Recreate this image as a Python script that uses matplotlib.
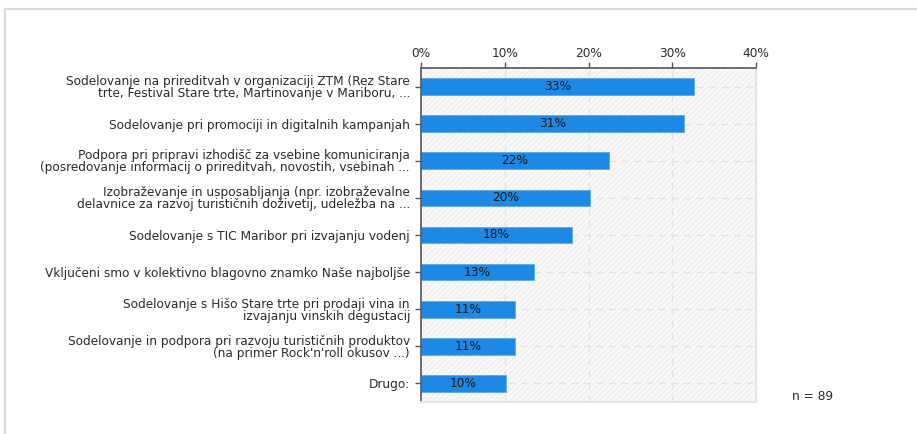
import matplotlib
matplotlib.use("Agg")
import matplotlib.pyplot as plt
from matplotlib.patches import Rectangle
from matplotlib.lines import Line2D

categories = [
    "Sodelovanje na prireditvah v organizaciji ZTM (Rez Stare\ntrte, Festival Stare trte, Martinovanje v Mariboru, ...",
    "Sodelovanje pri promociji in digitalnih kampanjah",
    "Podpora pri pripravi izhodišč za vsebine komuniciranja\n(posredovanje informacij o prireditvah, novostih, vsebinah ...",
    "Izobraževanje in usposabljanja (npr. izobraževalne\ndelavnice za razvoj turističnih doživetij, udeležba na ...",
    "Sodelovanje s TIC Maribor pri izvajanju vodenj",
    "Vključeni smo v kolektivno blagovno znamko Naše najboljše",
    "Sodelovanje s Hišo Stare trte pri prodaji vina in\nizvajanju vinskih degustacij",
    "Sodelovanje in podpora pri razvoju turističnih produktov\n(na primer Rock'n'roll okusov ...)",
    "Drugo:",
]
values = [32.58, 31.46, 22.47, 20.22, 17.98, 13.48, 11.24, 11.24, 10.11]
x_ticks = [0, 10, 20, 30, 40]
x_tick_labels = ["0%", "10%", "20%", "30%", "40%"]
n_label = "n = 89"

W, H = 917, 434
FS = 8.7
fig = plt.figure(figsize=(W / 100, H / 100), dpi=100)
fig.patch.set_facecolor("white")

# light outer frame
fig.add_artist(Line2D([5 / W, 1], [1 - 9 / H, 1 - 9 / H], color="#d9d9d9", lw=1.5))
fig.add_artist(Line2D([5 / W, 5 / W], [0, 1 - 9 / H], color="#d9d9d9", lw=1.5))

left, right, top, bottom = 421, 756, 68, 402
ax = fig.add_axes([left / W, 1 - bottom / H, (right - left) / W, (bottom - top) / H])

ax.set_xlim(0, 40)
ax.set_ylim(len(categories) - 0.5, -0.5)

# hatched plot background
ax.set_facecolor("#f9f9f9")
bg = Rectangle((0, 0), 1, 1, transform=ax.transAxes, facecolor="none",
               edgecolor="#efefef", hatch="//////", lw=0, zorder=0)
ax.add_patch(bg)

ypos = list(range(len(categories)))
for y in ypos:
    ax.axhline(y, color="#e2e2e2", lw=1, ls=(0, (5, 4)), zorder=1)
for x in x_ticks[1:-1]:
    ax.axvline(x, color="#e2e2e2", lw=1, ls=(0, (5, 4)), zorder=1)

ax.barh(ypos, values, height=0.45, color="#1e88e5", edgecolor="#5aa9ef",
        lw=0.6, zorder=2)
for y, v in zip(ypos, values):
    ax.text(v / 2, y, f"{v:.0f}%", ha="center", va="center", fontsize=FS,
            color="#1a1a1a", zorder=3)

ax.xaxis.tick_top()
ax.set_xticks(x_ticks)
ax.set_xticklabels(x_tick_labels, fontsize=FS, color="#2b2b2b")
ax.set_yticks(ypos)
ax.set_yticklabels(categories, fontsize=FS, color="#2b2b2b", linespacing=0.9)
ax.tick_params(axis="x", length=4, width=1, color="#555555", pad=2)
ax.tick_params(axis="y", length=4, width=1, color="#555555", pad=4)

for side in ["top", "left"]:
    ax.spines[side].set_color("#555555")
    ax.spines[side].set_linewidth(1.2)
for side in ["right", "bottom"]:
    ax.spines[side].set_color("#e4e4e4")
    ax.spines[side].set_linewidth(1.5)

fig.text(792 / W, 1 - 397 / H, n_label, fontsize=FS, color="#2b2b2b",
         ha="left", va="center")

fig.savefig("out.png", dpi=100)
